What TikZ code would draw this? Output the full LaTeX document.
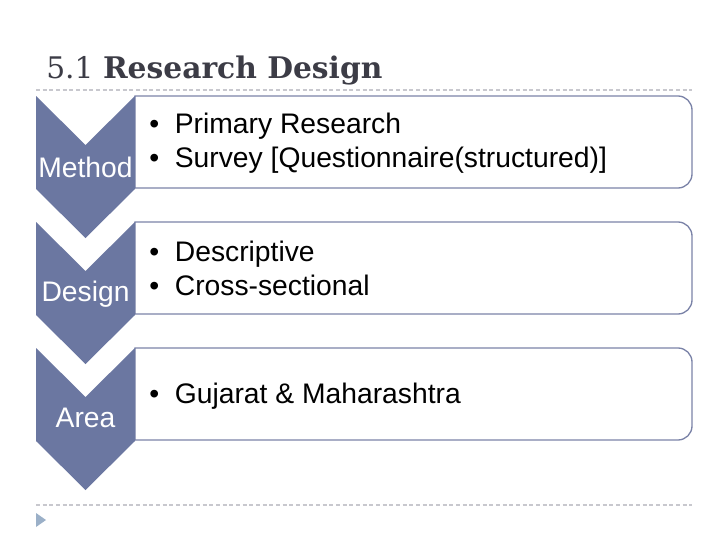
\documentclass[tikz,border=0pt]{standalone}
\usepackage{fontspec}
\setmainfont{Liberation Sans}
\newfontfamily\titlefont{DejaVu Serif}
\definecolor{chevc}{RGB}{107,119,161}
\definecolor{boxc}{RGB}{123,131,168}
\definecolor{titlec}{RGB}{60,60,70}
\definecolor{dashc}{RGB}{200,200,206}
\definecolor{tric}{RGB}{155,176,200}
\tikzset{
  chev/.style={fill=chevc},
  boxline/.style={draw=boxc,line width=1pt,fill=white},
  dashline/.style={draw=dashc,line width=1pt,dash pattern=on 3pt off 2pt},
  lab/.style={text=white,font=\fontsize{21.2}{25}\selectfont,anchor=base,inner sep=0pt},
  item/.style={anchor=base west,inner sep=0pt,font=\fontsize{21.2}{25.5}\selectfont}
}
\newcommand{\mybox}[1]{%
  \draw[boxline] (135,#1) -- (678,#1) .. controls (685.7,#1) and (692,#1+6.3) .. (692,#1+14)
    -- (692,#1+78) .. controls (692,#1+85.7) and (685.7,#1+92) .. (678,#1+92) -- (135,#1+92) -- cycle;
  \fill[chev] (36,#1) -- (85.5,#1+49) -- (135,#1) -- (135,#1+93) -- (85.5,#1+142) -- (36,#1+93) -- cycle;
}
\begin{document}
\begin{tikzpicture}[x=0.75pt,y=-0.75pt]
\useasboundingbox (0,0) rectangle (728,546);
\fill[white] (0,0) rectangle (728,546);
% title
\node[anchor=base west,inner sep=0pt,text=titlec,font=\titlefont\fontsize{22.3}{26}\selectfont] (title) at (46,78) {5.1 \textbf{Research Design}};
\draw[dashline] (36,90) -- (692,90);
\draw[dashline] (36,505) -- (692,505);
\fill[tric] (36,513) -- (46,520) -- (36,527) -- cycle;
% rows
\mybox{96}
\mybox{222}
\mybox{348}
\node[lab] (method) at (85.5,177) {Method};
\node[lab] (design) at (85.5,301) {Design};
\node[lab] (area) at (85.5,427) {Area};
\node[item] (t1) at (149,133) {\begin{tabular}[t]{@{}l@{\hspace{11.8pt}}l@{}}\textbullet & Primary Research\\ \textbullet & Survey [Questionnaire(structured)]\end{tabular}};
\node[item] (t2) at (149,261) {\begin{tabular}[t]{@{}l@{\hspace{11.8pt}}l@{}}\textbullet & Descriptive\\ \textbullet & Cross-sectional\end{tabular}};
\node[item] (t3) at (149,403) {\begin{tabular}[t]{@{}l@{\hspace{11.8pt}}l@{}}\textbullet & Gujarat \& Maharashtra\end{tabular}};
\end{tikzpicture}
\end{document}
